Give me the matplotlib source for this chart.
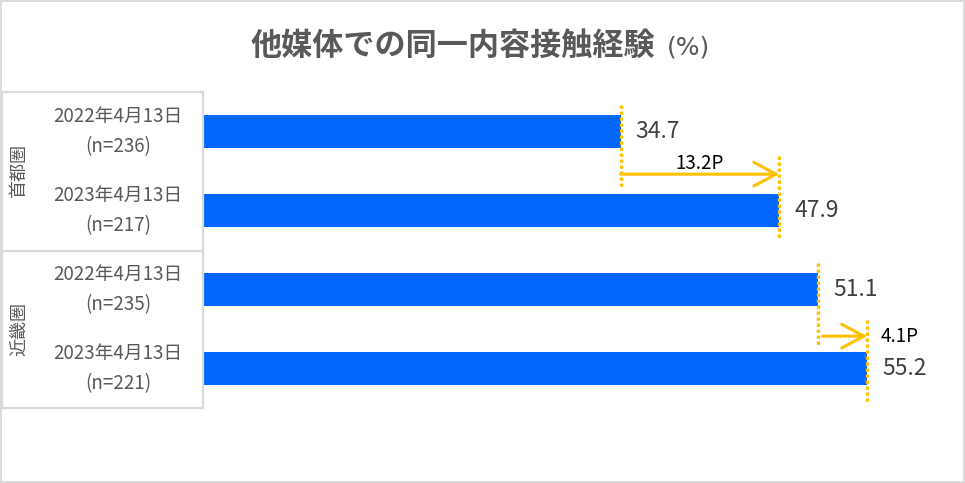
import matplotlib
matplotlib.use("Agg")
import matplotlib.pyplot as plt
from matplotlib.patches import Rectangle
from matplotlib.lines import Line2D

plt.rcParams['font.family'] = ['Noto Sans CJK JP', 'DejaVu Sans']

# ---- data ----
title = "他媒体での同一内容接触経験"
unit = "(%)"
groups = ["首都圏", "近畿圏"]
dates = ["2022年4月13日", "2023年4月13日", "2022年4月13日", "2023年4月13日"]
samples = ["(n=236)", "(n=217)", "(n=235)", "(n=221)"]
values = [34.7, 47.9, 51.1, 55.2]
diffs = ["13.2P", "4.1P"]

W, H = 965, 483
fig = plt.figure(figsize=(W / 100, H / 100), dpi=100)

def fx(x):
    return x / W

def fy(y):
    return 1 - y / H

BLUE = "#0066FF"
ORANGE = "#FFC000"
GRID = "#D9D9D9"
TXT = "#595959"

# outer border
fig.add_artist(Rectangle((fx(1), fy(482)), fx(963), (481) / H, transform=fig.transFigure,
                         fill=False, edgecolor=GRID, lw=1.3))

# title
fig.text(fx(251), fy(46), title, fontsize=22.4, fontweight='bold', color=TXT, ha='left', va='center')
fig.text(fx(667), fy(48), unit, fontsize=18, color=TXT, ha='left', va='center',
         family='DejaVu Sans')

# table
top, mid, bot, left, right = 92, 251, 408, 2, 203
fig.add_artist(Rectangle((fx(left), fy(bot)), fx(right - left), (bot - top) / H,
                         transform=fig.transFigure, fill=False, edgecolor=GRID, lw=1.6))
fig.add_artist(Line2D([fx(left), fx(right)], [fy(mid), fy(mid)], transform=fig.transFigure,
                      color=GRID, lw=1.6))

ax = fig.add_axes([fx(203), fy(bot), 722 / W, (bot - top) / H])
n = len(values)
ys = list(range(n))
ax.set_xlim(0, 60)
ax.set_ylim(n - 0.5, -0.5)
ax.axis('off')

ax.barh(ys, values, height=0.42, color=BLUE, zorder=2)

# row labels
for i in ys:
    ax.annotate(dates[i], xy=(0, i), xycoords=('axes fraction', 'data'), xytext=(-85, 15),
                textcoords='offset pixels', ha='center', va='center', fontsize=13.5, color=TXT)
    ax.annotate(samples[i], xy=(0, i), xycoords=('axes fraction', 'data'), xytext=(-85, -15),
                textcoords='offset pixels', ha='center', va='center', fontsize=13.5, color=TXT)

# group labels
for g, name in enumerate(groups):
    yc = 2 * g + 0.5
    ax.annotate(name, xy=(0, yc), xycoords=('axes fraction', 'data'), xytext=(-184, 0),
                textcoords='offset pixels', ha='center', va='center', fontsize=13,
                color=TXT, rotation=90)

# value labels
for i, v in zip(ys, values):
    ax.annotate(f"{v:.1f}", xy=(v, i), xytext=(15, 0), textcoords='offset pixels',
                ha='left', va='center', fontsize=16.5, color="#404040")

# dotted guide lines
spans = [(-0.34, 0.72), (-0.69, 0.36), (-0.34, 0.73), (-0.61, 0.44)]
for i, v in zip(ys, values):
    a, b = spans[i]
    ax.plot([v, v], [i + a, i + b], color=ORANGE, lw=2.4, linestyle=(0, (1, 0.8)),
            zorder=3, clip_on=False)

# difference arrows
style = dict(arrowstyle='->,head_length=1.6,head_width=0.85', mutation_scale=10,
             lw=2.2, color=ORANGE, shrinkA=0, shrinkB=0)
y1 = 0.54
ax.annotate('', xy=(values[1], y1), xytext=(values[0], y1), arrowprops=style, zorder=3)
ax.text((values[0] + values[1]) / 2, y1 - 0.13, diffs[0], ha='center', va='center',
        fontsize=13.5, color='black')
y2 = 2.59
ax.annotate('', xy=(values[3], y2), xytext=(values[2] + 0.4, y2), arrowprops=style, zorder=3)
ax.annotate(diffs[1], xy=(values[3], y2), xytext=(13, 0), textcoords='offset pixels',
            ha='left', va='center', fontsize=13.5, color='black')

fig.savefig("out.png", dpi=100)
